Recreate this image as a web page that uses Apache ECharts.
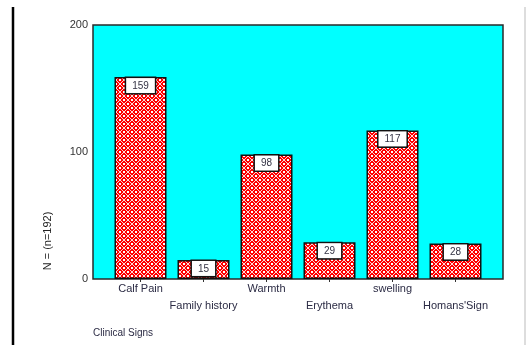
<!DOCTYPE html>
<html>
<head>
<meta charset="utf-8">
<script src="https://cdn.jsdelivr.net/npm/echarts@6/dist/echarts.min.js"></script>
<style>
  html, body { margin: 0; padding: 0; background: #fff; }
  #chart { width: 526px; height: 345px; }
</style>
</head>
<body>
<div id="chart"></div>
<script>
// Clinical signs recorded in the study group
const categories = ['Calf Pain', 'Family history', 'Warmth', 'Erythema', 'swelling', 'Homans\'Sign'];
const counts = [159, 15, 98, 29, 117, 28];
const yTicks = [0, 100, 200];
const yAxisTitle = 'N = (n=192)';
const xAxisTitle = 'Clinical Signs';

// Red tile with a white diamond lattice and dots
function latticeTile() {
  const c = document.createElement('canvas');
  c.width = 8; c.height = 8;
  const g = c.getContext('2d');
  g.fillStyle = '#ff0000';
  g.fillRect(0, 0, 8, 8);
  g.strokeStyle = 'rgba(255,255,255,0.85)';
  g.lineWidth = 1;
  g.beginPath();
  g.moveTo(0, 4); g.lineTo(4, 0); g.lineTo(8, 4); g.lineTo(4, 8); g.closePath();
  g.stroke();
  g.fillStyle = '#ffffff';
  g.fillRect(3, 3, 2, 2);
  g.fillRect(0, 0, 1, 1); g.fillRect(7, 0, 1, 1); g.fillRect(0, 7, 1, 1); g.fillRect(7, 7, 1, 1);
  return c;
}

const chart = echarts.init(document.getElementById('chart'), null, { renderer: 'canvas' });
const textFont = 'Liberation Sans, Arial, sans-serif';

chart.setOption({
  animation: false,
  backgroundColor: '#ffffff',
  grid: [
    { left: 93, right: 23, top: 25, bottom: 66, show: true, backgroundColor: '#00ffff', borderColor: '#2a2a2a', borderWidth: 1.5 },
    { left: 109, right: 39, top: 25, bottom: 66 }
  ],
  xAxis: [
    { type: 'category', gridIndex: 0, data: categories, show: false },
    {
      type: 'category', gridIndex: 1, data: categories,
      axisLine: { show: false },
      axisTick: { show: true, alignWithLabel: true, length: 3, lineStyle: { color: '#333', width: 1 } },
      axisLabel: {
        interval: 0, margin: 1, lineHeight: 17,
        color: '#2b2b44', fontSize: 11, fontFamily: textFont,
        formatter: (v, i) => (i % 2 === 1 ? '\n' + v : v)
      }
    }
  ],
  yAxis: [
    {
      type: 'value', gridIndex: 0, min: yTicks[0], max: yTicks[yTicks.length - 1], interval: 100,
      axisLine: { show: false },
      axisTick: { show: false },
      splitLine: { show: false },
      axisLabel: { color: '#333', fontSize: 11, fontFamily: textFont, margin: 5 }
    },
    { type: 'value', gridIndex: 1, min: 0, max: 200, show: false }
  ],
  series: [{
    type: 'bar',
    xAxisIndex: 1, yAxisIndex: 1,
    data: counts,
    barWidth: 52,
    itemStyle: {
      color: { image: latticeTile(), repeat: 'repeat' },
      borderColor: '#111',
      borderWidth: 1.5
    },
    label: {
      show: true,
      position: 'insideTop',
      distance: 1,
      color: '#333344',
      fontSize: 10,
      fontFamily: textFont,
      backgroundColor: '#ffffff',
      borderColor: '#111',
      borderWidth: 1.5,
      padding: [3, 6, 2, 6]
    }
  }],
  graphic: [
    { type: 'line', shape: { x1: 13, y1: 7, x2: 13, y2: 345 }, style: { stroke: '#000', lineWidth: 2.5 } },
    { type: 'line', shape: { x1: 525, y1: 7, x2: 525, y2: 345 }, style: { stroke: '#bbb', lineWidth: 1 } },
    {
      type: 'text', x: 48, y: 241, rotation: Math.PI / 2,
      style: { text: yAxisTitle, fill: '#222', font: '11px ' + textFont, textAlign: 'center', textVerticalAlign: 'middle' }
    },
    {
      type: 'text', x: 93, y: 333,
      style: { text: xAxisTitle, fill: '#2b2b44', font: '10px ' + textFont, textAlign: 'left', textVerticalAlign: 'middle' }
    }
  ]
});
</script>
</body>
</html>
